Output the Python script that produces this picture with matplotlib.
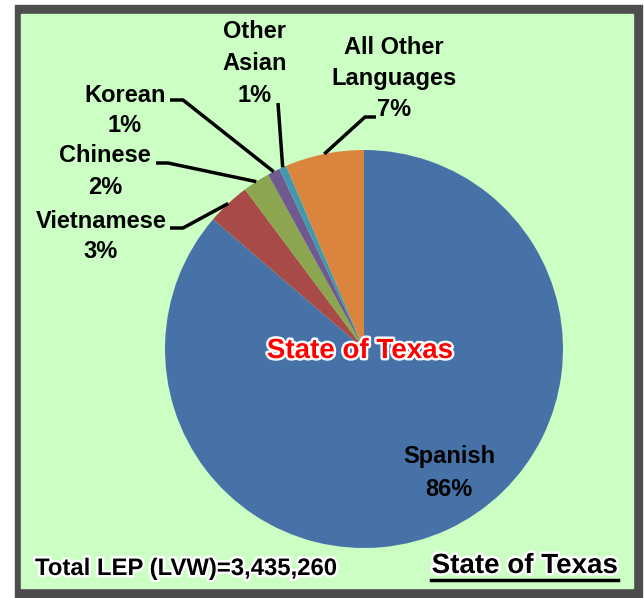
import matplotlib
matplotlib.use("Agg")
import matplotlib.pyplot as plt
import matplotlib.patheffects as pe
import numpy as np

languages = ["Spanish", "Vietnamese", "Chinese", "Korean", "Other Asian", "All Other Languages"]
shares = [86.3, 3.5, 2.2, 1.0, 0.6, 6.4]
pct_labels = ["86%", "3%", "2%", "1%", "1%", "7%"]
label_lines = [["Spanish"], ["Vietnamese"], ["Chinese"], ["Korean"], ["Other", "Asian"], ["All Other", "Languages"]]
colors = ["#4672A8", "#A84A48", "#8BA64F", "#70598F", "#4398AF", "#DA843D"]
total_text = "Total LEP (LVW)=3,435,260"
region = "State of Texas"

W, H = 644, 598
def Y(y):  # image row -> data y
    return H - y

fig = plt.figure(figsize=(W / 100, H / 100), dpi=100)
fig.patch.set_facecolor("white")
ax = fig.add_axes([0, 0, 1, 1])

# frame and panel
ax.add_patch(plt.Rectangle((15, Y(598)), 627, 593, color="#4D4D4D", zorder=0))
ax.add_patch(plt.Rectangle((21, Y(588)), 612, 574, color="#CCFFC4", zorder=0.5))

cx, cy, r = 364, Y(349), 199
wedges, _ = ax.pie(shares, colors=colors, startangle=90, counterclock=False,
                   center=(cx, cy), radius=r, wedgeprops=dict(linewidth=0))
ax.set_xlim(0, W)
ax.set_ylim(0, H)
ax.set_aspect("equal")
ax.axis("off")

font = dict(family=["Liberation Sans", "DejaVu Sans"], fontweight="bold")

def rim(i):
    w = wedges[i]
    a = np.deg2rad((w.theta1 + w.theta2) / 2)
    return cx + r * np.cos(a), cy + r * np.sin(a)

# label layout: text x, line centers, leader path start points
layout = {
    0: (449, [455, 487], []),
    1: (101, [219, 249], [(170, 228), (183, 228)]),
    2: (105, [154, 186], [(156, 163), (168, 163)]),
    3: (125, [93, 124], [(170, 100), (183, 100)]),
    4: (255, [30, 62, 93], [(278, 103)]),
    5: (394, [45, 77, 108], [(376, 117), (365, 117)]),
}
for i, (tx, rows, pts) in layout.items():
    lines = label_lines[i] + [pct_labels[i]]
    for s, ty in zip(lines, rows):
        ax.text(tx, Y(ty + 8.5), s, ha="center", va="baseline", fontsize=17, **font)
    if pts:
        xs = [p[0] for p in pts]
        ys = [Y(p[1]) for p in pts]
        rx, ry = rim(i)
        ax.plot(xs + [rx], ys + [ry], color="black", lw=2.5, solid_capstyle="butt")

halo = [pe.withStroke(linewidth=3.5, foreground="white")]
ax.text(360, Y(348 + 10), region, ha="center", va="baseline", fontsize=20, color="red",
        path_effects=halo, **font)
ax.text(35, Y(566 + 9), total_text, ha="left", va="baseline", fontsize=17.2,
        path_effects=halo, **font)
ax.text(618, Y(563 + 10), region, ha="right", va="baseline", fontsize=20,
        path_effects=halo, **font)
ax.plot([431, 618], [Y(580), Y(580)], color="black", lw=2.5)

fig.savefig("out.png", dpi=100, facecolor=fig.get_facecolor())
